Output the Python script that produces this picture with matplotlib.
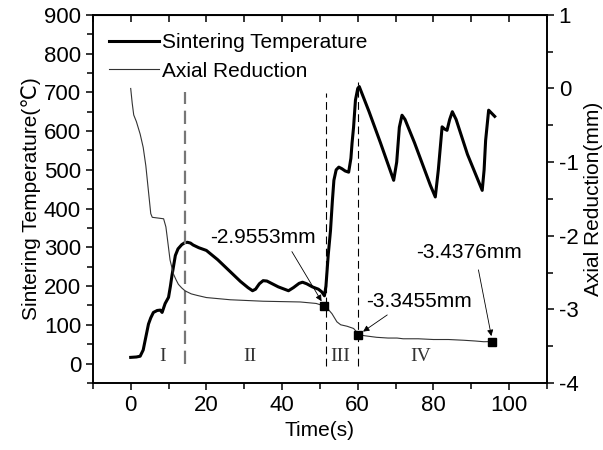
#!/usr/bin/env python3

import matplotlib
matplotlib.use("Agg")
import matplotlib.pyplot as plt
from matplotlib.ticker import MultipleLocator

plt.rcParams["font.family"] = ["Liberation Sans", "DejaVu Sans"]
plt.rcParams["axes.unicode_minus"] = False

# sintering temperature (left axis)
temp_t = [0, 1.5, 2.5, 3.3, 3.8, 4.7, 5.3, 6.0, 7.0, 7.8, 8.3, 9.1, 10.0, 10.5, 10.9,
          11.8, 12.5, 13.5, 14.3, 15.0, 15.8, 16.5, 18, 20, 23, 26, 29, 31, 32.2, 33, 34, 35, 36,
          37.4, 39, 41.7, 43, 44.5, 45.4, 46.5, 48, 49.6, 50.5, 51.2, 51.6, 52.2, 52.8,
          53.3, 53.7, 54.3, 55.0, 55.8, 56.7, 57.6, 58.2, 58.5, 58.9, 59.4, 60.0, 60.4,
          61, 63, 66, 69.5, 70.3, 71, 71.7, 72.5, 75, 79.2, 80.5, 81.3, 82.3, 83.0, 83.6,
          84.3, 85.0, 86, 89, 92.9, 93.4, 93.8, 94.6, 95.5, 96.2]
temp = [16, 17, 19, 35, 59, 102, 118, 132, 137, 138, 132, 155, 171, 200, 227,
        279, 296, 307, 312, 313, 311, 306, 299, 292, 268, 240, 212, 196, 188, 192, 206, 214, 213,
        206, 198, 188, 196, 207, 210, 206, 198, 192, 185, 175, 200, 280, 343,
        420, 473, 500, 507, 503, 497, 494, 530, 569, 610, 680, 710, 715,
        700, 650, 570, 473, 520, 610, 641, 630, 570, 460, 430, 500, 611, 605, 602,
        630, 650, 630, 540, 447, 500, 576, 654, 645, 638]

# axial reduction (right axis)
red_t = [0, 0.4, 0.8, 1.5, 2.5, 3.3, 4.0, 4.7, 5.3, 5.7, 8.7, 9.3, 9.6, 10.4, 11.3,
         12.0, 12.6, 13.5, 14.4, 16, 17.5, 20, 26.3, 35, 44.8, 49, 51.2, 52.2, 53.2,
         54.5, 55.5, 57.2, 58.9, 59.6, 60.2, 62, 65, 68, 70.4, 72, 76, 80, 84, 88,
         91, 93.3, 95.6]
red = [0.0, -0.2, -0.36, -0.45, -0.62, -0.80, -1.05, -1.40, -1.70, -1.75, -1.77, -1.88,
       -2.0, -2.33, -2.52, -2.60, -2.66, -2.71, -2.75, -2.79, -2.81, -2.84, -2.87, -2.89,
       -2.90, -2.92, -2.9553, -3.0, -3.06, -3.17, -3.21, -3.23, -3.26, -3.30, -3.3455,
       -3.36, -3.38, -3.39, -3.39, -3.40, -3.40, -3.41, -3.41, -3.42, -3.43, -3.44, -3.4376]

mark_t = [51.2, 60.2, 95.6]
mark_v = [-2.9553, -3.3455, -3.4376]
mark_lbl = ["-2.9553mm", "-3.3455mm", "-3.4376mm"]
lbl_pos = [(34.9, -2.02), (76.3, -2.895), (89.4, -2.234)]
arrow_from = [(42.6, -2.216), (67.8, -3.076), (91.9, -2.464)]

stage_x = [14.4, 51.5, 60.2]
stage_top = [700, 698, 727]
stage_names = ["I", "II", "III", "IV"]
stage_name_x = [8.5, 31.6, 55.4, 76.6]

fig = plt.figure(figsize=(6.03, 4.5), dpi=100)
ax = fig.add_axes([0.154, 0.149, 0.753, 0.818])
ax2 = ax.twinx()

l1, = ax.plot(temp_t, temp, "-", color="black", lw=2.2, label="Sintering Temperature")
l2, = ax2.plot(red_t, red, "-", color="#333333", lw=0.8, label="Axial Reduction")
ax2.plot(mark_t, mark_v, "s", color="black", markersize=5.5)

# stage boundaries
ax.vlines(stage_x[0], 0, stage_top[0], colors="#777777", lw=1.6, linestyles=(0, (6, 3)))
for x, top in zip(stage_x[1:], stage_top[1:]):
    ax.vlines(x, -5, top, colors="black", lw=0.8, linestyles=(0, (7, 4)))

for name, x in zip(stage_names, stage_name_x):
    ax.text(x, 18, name, ha="center", va="center", fontsize=14,
            family="Liberation Serif", color="#333333")

for lbl, (tx, ty), (ax0, ay0), mx, my in zip(mark_lbl, lbl_pos, arrow_from, mark_t, mark_v):
    ax2.text(tx, ty, lbl, ha="center", va="center", fontsize=15)
    ax2.annotate("", xy=(mx, my), xytext=(ax0, ay0),
                 arrowprops=dict(arrowstyle="-|>", color="black", lw=0.6,
                                 mutation_scale=9, shrinkA=0, shrinkB=4))

ax.set_xlim(-10, 110)
ax.set_ylim(-50, 900)
ax2.set_ylim(-4, 1)

ax.xaxis.set_major_locator(MultipleLocator(20))
ax.xaxis.set_minor_locator(MultipleLocator(10))
ax.yaxis.set_major_locator(MultipleLocator(100))
ax.yaxis.set_minor_locator(MultipleLocator(50))
ax2.yaxis.set_major_locator(MultipleLocator(1))
ax2.yaxis.set_minor_locator(MultipleLocator(0.5))

ax.tick_params(which="both", direction="out", labelsize=16, width=1.1)
ax.tick_params(which="major", length=5)
ax.tick_params(which="minor", length=4)
ax2.tick_params(which="both", direction="out", labelsize=16, width=1.1)
ax2.tick_params(which="major", length=5)
ax2.tick_params(which="minor", length=4)

top = ax.secondary_xaxis("top")
top.xaxis.set_major_locator(MultipleLocator(20))
top.xaxis.set_minor_locator(MultipleLocator(10))
top.tick_params(which="both", direction="in", labeltop=False, length=5, width=1.1)

for a in (ax, ax2):
    for s in a.spines.values():
        s.set_linewidth(1.2)

ax.set_xlabel("Time(s)", fontsize=15, labelpad=4)
ax.set_ylabel("Sintering Temperature(℃)", fontsize=15, labelpad=2)
ax2.set_ylabel("Axial Reduction(mm)", fontsize=15, labelpad=4)

ax2.legend([l1, l2], [l1.get_label(), l2.get_label()], loc="upper left",
           bbox_to_anchor=(0.035, 0.95), frameon=False, fontsize=15,
           handlelength=2.4, handletextpad=0.15, labelspacing=0.45,
           borderpad=0, borderaxespad=0)

plt.savefig("out.png", dpi=100)
